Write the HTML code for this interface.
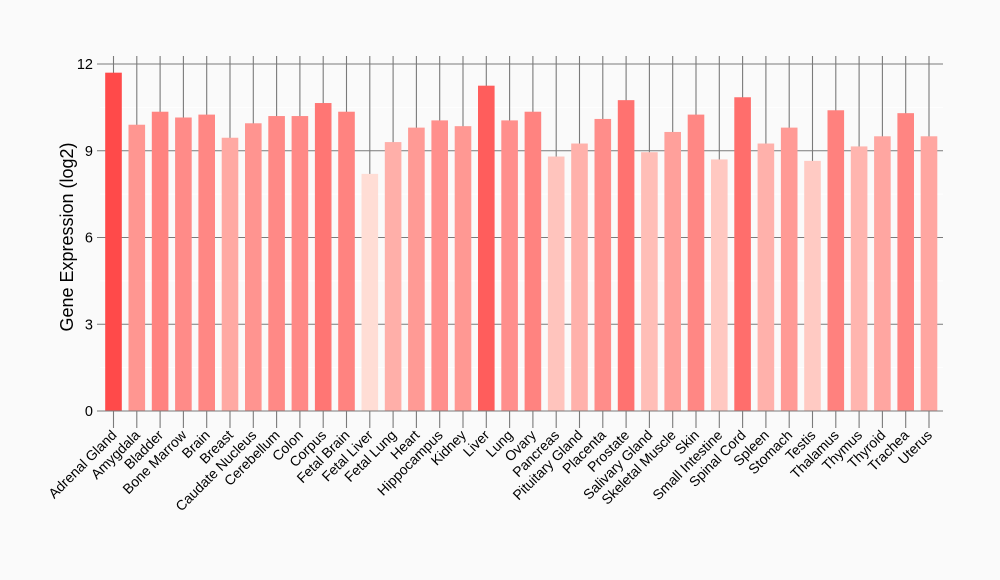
<!DOCTYPE html>
<html><head><meta charset="utf-8"><style>
html,body{margin:0;padding:0;background:#fafafa;}
svg{display:block;font-family:"Liberation Sans",Arial,sans-serif;}
</style></head><body>
<svg id="c" width="1000" height="580" viewBox="0 0 1000 580" xmlns="http://www.w3.org/2000/svg">
<rect width="1000" height="580" fill="#fafafa"/>
<g id="g"></g>
<text transform="translate(73,237) rotate(-90)" text-anchor="middle" font-size="18" fill="#000">Gene Expression (log2)</text>
</svg>
<script>
var names=["Adrenal Gland","Amygdala","Bladder","Bone Marrow","Brain","Breast","Caudate Nucleus","Cerebellum","Colon","Corpus","Fetal Brain","Fetal Liver","Fetal Lung","Heart","Hippocampus","Kidney","Liver","Lung","Ovary","Pancreas","Pituitary Gland","Placenta","Prostate","Salivary Gland","Skeletal Muscle","Skin","Small Intestine","Spinal Cord","Spleen","Stomach","Testis","Thalamus","Thymus","Thyroid","Trachea","Uterus"];
var vals=[11.7,9.9,10.35,10.15,10.25,9.45,9.95,10.2,10.2,10.65,10.35,8.2,9.3,9.8,10.05,9.85,11.25,10.05,10.35,8.8,9.25,10.1,10.75,8.95,9.65,10.25,8.7,10.85,9.25,9.8,8.65,10.4,9.15,9.5,10.3,9.5];
var s='';
function y(v){return 411-v*(347/12);}
for(var k=0;k<=4;k++){var yy=y(k*3);s+='<line x1="97" x2="943" y1="'+yy+'" y2="'+yy+'" stroke="#7a7a7a" stroke-width="1.1"/>';
s+='<text x="93" y="'+(yy+5)+'" text-anchor="end" font-size="14.5" fill="#000">'+(k*3)+'</text>';}
for(var k=0;k<4;k++){var yy=y(k*3+1.5);s+='<line x1="100" x2="943" y1="'+yy+'" y2="'+yy+'" stroke="#ffffff" stroke-width="1"/>';}
var mn=8.2,mx=11.7;
for(var i=0;i<36;i++){var cx=113.5+i*23.3;
s+='<line x1="'+cx+'" x2="'+cx+'" y1="56" y2="428" stroke="#7a7a7a" stroke-width="1.1"/>';}
for(var i=0;i<36;i++){var cx=113.5+i*23.3;var t=(vals[i]-mn)/(mx-mn);
var g=Math.round(221-t*147),b=Math.round(213-t*139);
s+='<rect x="'+(cx-8.3)+'" y="'+y(vals[i])+'" width="16.6" height="'+(411-y(vals[i]))+'" fill="rgb(255,'+g+','+b+')"/>';
s+='<text transform="translate('+(cx+4)+',436) rotate(-45)" text-anchor="end" font-size="14" fill="#000">'+names[i]+'</text>';}
s+='<line x1="100" x2="943" y1="411" y2="411" stroke="#7a7a7a" stroke-width="1.1"/>';
document.getElementById('g').innerHTML=s;
</script>
</body></html>
